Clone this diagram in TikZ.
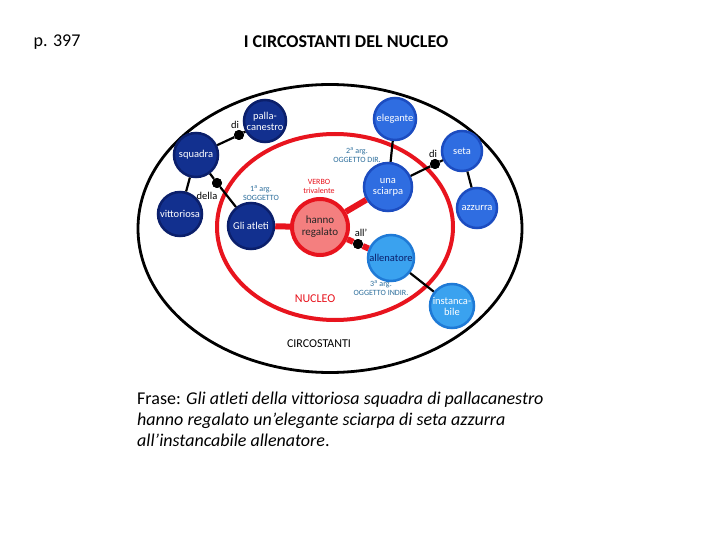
\documentclass[tikz,border=0pt]{standalone}
\usepackage{fontspec}
\setmainfont{Carlito}
\definecolor{navyf}{HTML}{12308F}
\definecolor{navyd}{HTML}{0B1F6B}
\definecolor{medf}{HTML}{2F6DE1}
\definecolor{medd}{HTML}{1C4CC0}
\definecolor{ltf}{HTML}{3AA2EF}
\definecolor{ltd}{HTML}{1F7AD6}
\definecolor{pinkf}{HTML}{F47F7F}
\definecolor{redc}{HTML}{E8141E}
\definecolor{lblue}{HTML}{2C6E9C}
\begin{document}
\begin{tikzpicture}[x=1pt,y=-1pt,
  nd/.style={circle,draw,line width=2.5pt,minimum size=#1,inner sep=0pt,align=center,
    font=\fontsize{10.5}{11}\selectfont,text=white},
  dk/.style={nd=#1,fill=navyf,draw=navyd},
  md/.style={nd=#1,fill=medf,draw=medd},
  lt/.style={nd=#1,fill=ltf,draw=ltd},
  dot/.style={circle,fill=black,inner sep=0pt,minimum size=10pt},
  conn/.style={line width=2.2pt,black},
  rconn/.style={line width=6pt,redc},
  lab/.style={font=\fontsize{10.5}{10.5}\selectfont,black},
  arg/.style={font=\fontsize{8}{9}\selectfont,text=lblue,align=center},
]
\useasboundingbox (0,0) rectangle (720,540);
\fill[white] (0,0) rectangle (720,540);

% title
\node[font=\fontsize{18}{18}\selectfont] (page) at (57,42) {p. 397};
\node[font=\bfseries\fontsize{18}{18}\selectfont] (title) at (346,42) {I CIRCOSTANTI DEL NUCLEO};

% ellipses
\draw[line width=2.8pt,black] (330,228.5) ellipse [x radius=192, y radius=144];
\draw[line width=4pt,redc] (335,227) ellipse [x radius=118, y radius=93];

% nodes
\node[dk=42pt] (palla) at (265,121) {palla-\\canestro};
\node[dk=44pt] (squadra) at (196,155) {squadra};
\node[dk=44pt] (vitt) at (180,214) {vittoriosa};
\node[dk=46pt] (atleti) at (251,226) {Gli atleti};
\node[md=48pt] (sciarpa) at (388,187) {una\\sciarpa};
\node[md=42pt] (eleg) at (395,119) {elegante};
\node[md=40pt] (seta) at (462,151) {seta};
\node[md=40pt] (azz) at (477,208) {azzurra};
\node[lt=46pt,text=navyd] (allen) at (391,258) {allenatore};
\node[lt=44pt] (inst) at (452,306) {instanca-\\bile};
\node[circle,draw=redc,fill=pinkf,line width=4pt,minimum size=56pt,inner sep=0pt,align=center,
  font=\fontsize{11}{12}\selectfont,text=black!85] (hanno) at (320,227) {hanno\\regalato};

% dots
\node[dot] (d1) at (239,135) {};
\node[dot] (d2) at (217,183) {};
\node[dot] (d3) at (435,164) {};
\node[dot] (d4) at (358,244) {};

% connectors
\draw[rconn] (atleti) -- (hanno);
\draw[rconn] (hanno) -- (sciarpa);
\draw[rconn] (hanno) -- (d4) -- (allen);
\draw[conn] (squadra) -- (d1) -- (palla);
\draw[conn] (squadra) -- (d2) -- (atleti);
\draw[conn] (squadra) -- (vitt);
\draw[conn] (eleg) -- (sciarpa);
\draw[conn] (sciarpa) -- (d3) -- (seta);
\draw[conn] (seta) -- (azz);
\draw[conn] (allen) -- (inst);

% dots on top
\fill[black] (d1) circle (5pt);
\fill[black] (d2) circle (5pt);
\fill[black] (d3) circle (5pt);
\fill[black] (d4) circle (5pt);

% labels
\node[lab] (ldi1) at (235,125) {di};
\node[lab] (ldella) at (207,196) {della};
\node[lab] (ldi2) at (433,154) {di};
\node[lab] (lall) at (361,233) {all’};

\node[arg] (a1) at (261,193) {1\textsuperscript{a} arg.\\SOGGETTO};
\node[arg] (a2) at (357,155) {2\textsuperscript{a} arg.\\OGGETTO DIR.};
\node[arg] (a3) at (381,288) {3\textsuperscript{a} arg.\\OGGETTO INDIR.};
\node[font=\fontsize{8}{9}\selectfont,text=redc,align=center] (verbo) at (319,186) {VERBO\\trivalente};
\node[font=\fontsize{12}{12}\selectfont,text=redc] (nucleo) at (315,299) {NUCLEO};
\node[font=\fontsize{12}{12}\selectfont] (circ) at (319,344) {CIRCOSTANTI};

% sentence
\node[anchor=base west,font=\fontsize{18}{18}\selectfont,inner sep=0pt] (s1) at (137,404) {Frase: \textit{Gli atleti della vittoriosa squadra di pallacanestro}};
\node[anchor=base west,font=\fontsize{18}{18}\selectfont\itshape,inner sep=0pt] (s2) at (137,425) {hanno regalato un’elegante sciarpa di seta azzurra};
\node[anchor=base west,font=\fontsize{18}{18}\selectfont,inner sep=0pt] (s3) at (137,446) {\textit{all’instancabile allenatore}.};
\end{tikzpicture}
\end{document}
